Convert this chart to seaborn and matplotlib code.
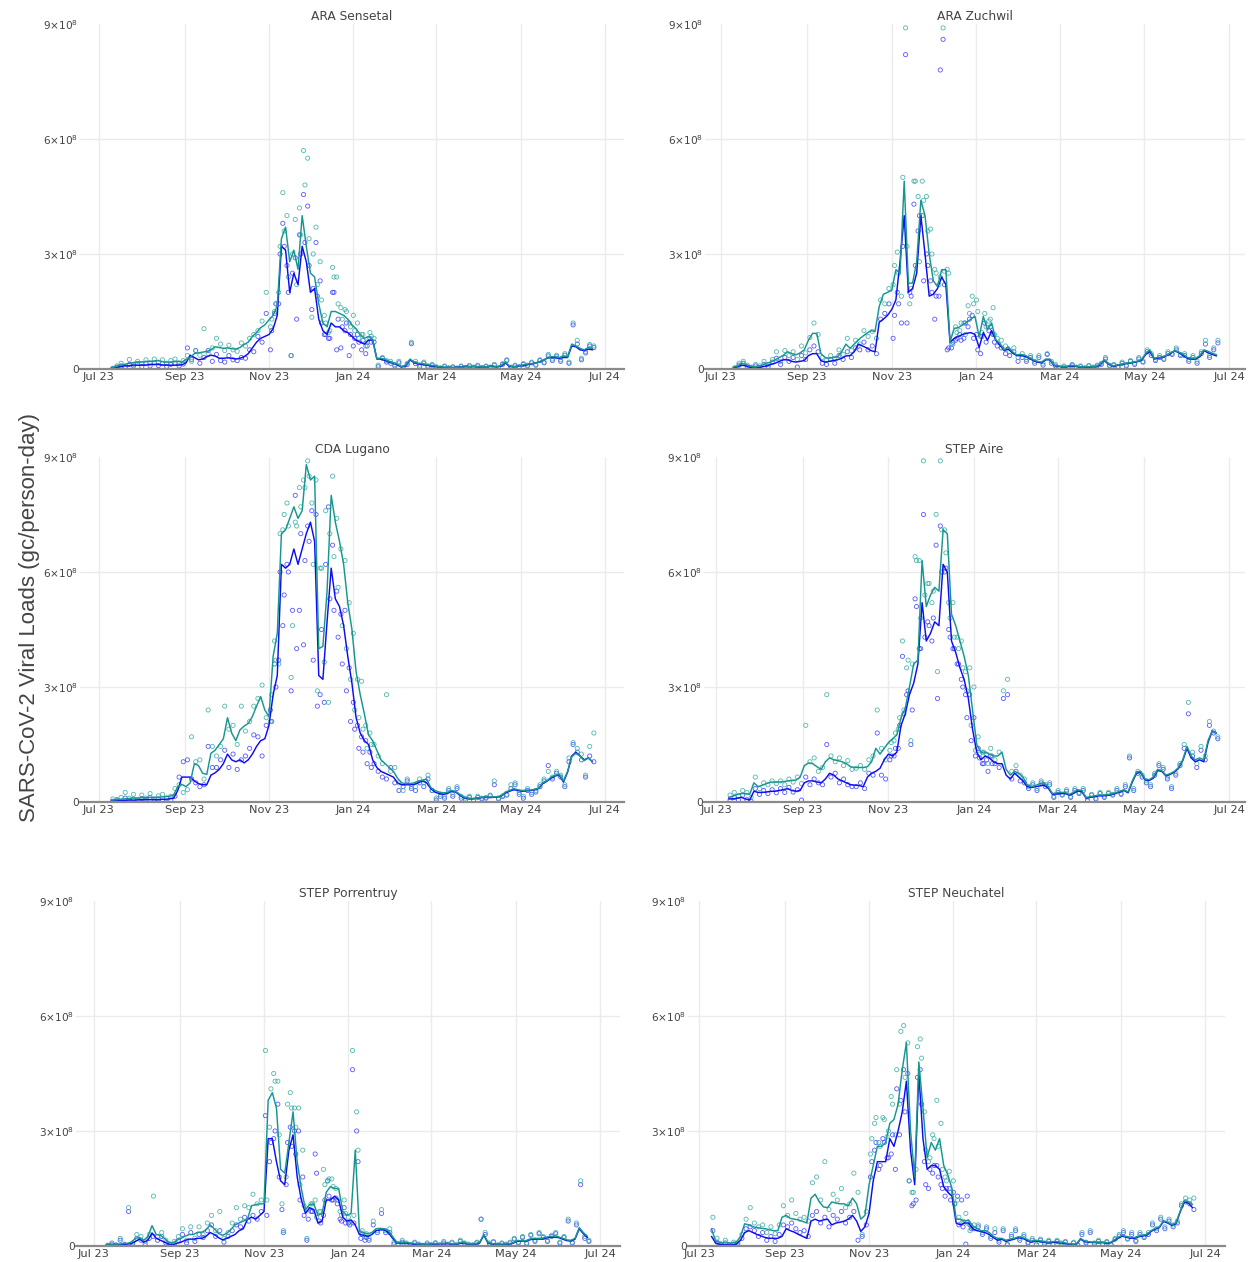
import numpy as np
import pandas as pd
import matplotlib
matplotlib.use("Agg")
import matplotlib.pyplot as plt
import matplotlib.dates as mdates
import seaborn as sns

sns.set_theme(style="white")
plt.rcParams["font.family"] = ["DejaVu Sans"]
plt.rcParams["mathtext.fontset"] = "dejavusans"

UNIT = 1e7  # all loads below are in units of 10^7 gc/person-day

# smoothed curves every 3 days, raw samples offset by one day,
# plus extra raw samples in the winter peak window
line_dates = pd.date_range("2023-07-10", periods=117, freq="3D")
sample_dates = pd.date_range("2023-07-11", periods=117, freq="3D")
peak_dates = pd.date_range("2023-07-12", periods=117, freq="3D")[38:63]

sites = ["ARA Sensetal", "ARA Zuchwil", "CDA Lugano", "STEP Aire",
         "STEP Porrentruy", "STEP Neuchatel"]

# ---------------- ARA Sensetal ----------------
sens_n1_line = [0.2,0.4,0.6,0.8,0.8,1.0,1.0,1.0,1.0,1.1,
    1.2,1.2,1.1,1.0,1.0,1.0,1.0,1.1,
    1.6,3.6,3.0,2.4,2.6,3.2,3.6,3.4,2.8,2.8,2.9,2.8,
    2.6,2.8,3.2,4.0,5.5,7.0,8.0,8.5,9.0,10.5,14.0,
    32,31,20,25,22,32,28,20,21,13,10,9,12,11,11,10,9.5,8.5,7.5,7.0,6.5,7.5,7.6,
    2.6,2.6,2.2,1.8,1.5,1.0,0.5,0.8,2.4,1.6,1.3,1.2,1.0,0.8,0.6,0.5,0.4,
    0.4,0.4,0.4,0.5,0.6,0.7,0.6,0.6,0.5,
    0.5,0.6,0.7,0.5,0.8,1.6,0.6,0.6,0.7,0.9,1.0,1.3,1.5,1.8,2.2,2.8,3.0,3.0,2.8,3.0,3.0,6.0,5.8,5.0,4.8,5.2,5.0]
sens_n1_pts = [0.1,0.5,0.8,0.4,1.2,0.8,1.4,0.6,1.5,0.8,
    1.6,0.9,1.4,0.7,1.2,1.5,0.8,1.3,
    5.5,2.5,4.8,1.5,3.0,4.8,2.0,3.8,2.2,1.8,3.5,2.4,
    2.2,3.0,2.8,5.0,4.5,8.5,7.0,14.5,5.0,14.5,17.0,
    38,27,3.5,29,35,45.5,42.5,15.5,33,23,9,8,20,5,5.5,10,3.5,6,9,5,4,8,7,
    0.6,2.8,1.8,1.5,0.8,1.6,0.2,1.2,6.6,1.4,0.6,1.5,0.5,1.0,0.4,0.2,0.6,
    0.2,0.5,0.2,0.6,0.3,0.8,0.4,0.8,0.3,
    0.6,0.4,1.0,0.2,1.2,2.2,0.4,0.8,0.5,1.2,0.8,1.6,1.0,2.2,1.6,3.4,2.2,3.2,2.0,3.6,1.5,11.5,6.5,2.4,4.2,6.0,5.6]
sens_n1_peak = [10,17,30,32,20,25,13,30,33,27,21,19,12,9,8,20,13,11,12,9,8,7,7.5,6,7]
sens_n2_line = [0.3,0.6,1.0,1.2,1.4,1.6,1.8,1.8,1.9,2.0,
    2.0,2.2,2.0,1.8,1.8,1.9,2.0,1.8,
    2.5,3.0,4.0,4.2,4.4,4.6,5.0,5.8,5.6,5.4,5.5,5.3,
    5.2,5.6,6.4,7.0,8.5,9.5,10.8,11.5,12.8,14.0,16.5,
    34,37,28,31,26,40,32,25,24,17,12,11,15,15,14.5,14,13,11.5,10.5,9,8,8.5,7.6,
    2.8,2.8,2.5,2.0,1.6,1.2,0.6,1.0,2.6,1.8,1.5,1.4,1.2,1.0,0.8,0.6,0.5,
    0.5,0.4,0.4,0.5,0.5,0.6,0.6,0.7,0.6,
    0.5,0.7,0.8,0.5,1.0,1.8,0.8,0.6,0.8,1.0,1.2,1.4,1.5,1.8,2.2,2.8,3.2,3.2,3.0,3.4,3.2,6.5,6.0,5.4,5.0,5.6,5.4]
sens_n2_pts = [0.2,0.8,1.5,0.6,2.5,1.2,2.0,1.4,2.4,1.6,
    2.6,1.8,2.4,1.5,2.2,2.6,1.6,2.2,
    3.5,2.0,4.8,3.6,10.5,4.0,5.5,8.0,6.5,4.8,6.2,5.0,
    4.6,6.8,6.0,8.0,9.0,10.0,12.5,20.0,11.0,15.0,20.0,
    46,40,3.5,39,42,57,55,13.5,37,28,14,9.5,26.5,24,16,15.5,12,14,12,9,6,9.5,8,
    1.0,3.0,2.2,2.0,1.2,2.0,0.4,1.5,7.0,2.0,1.0,1.8,0.8,1.2,0.6,0.3,0.8,
    0.3,0.6,0.2,0.8,0.4,0.9,0.5,1.0,0.4,
    0.8,0.5,1.2,0.3,1.4,2.4,0.5,1.0,0.6,1.4,1.0,1.8,1.2,2.4,1.8,3.8,2.6,3.6,2.4,4.0,1.8,12.0,7.5,2.8,4.6,6.4,6.0]
sens_n2_peak = [13,17,32,36,24,30,22,35,48,34,30,22,18,12,10,24,17,13,15,11,10,8,9,7,8.5]

# ---------------- ARA Zuchwil ----------------
zuch_n1_line = [0.3,0.6,1.0,0.8,0.4,0.2,0.3,0.6,0.8,1.2,
    1.5,2.0,2.4,2.4,2.0,1.8,2.0,2.2,
    3.5,4.0,4.0,2.2,1.8,2.0,2.2,2.4,2.8,3.4,3.5,4.5,
    6.5,6.0,5.5,4.8,4.5,12.2,13.0,14.0,15.5,18,28,
    40,20,21,25,40,30,19,19.5,21,24,22,7.0,8.0,8.5,9.0,9.3,9.5,9.0,5.6,9.5,7.5,10,7.5,
    6.2,4.8,5.2,4.2,3.5,3.5,3.3,2.8,2.2,1.8,1.6,2.4,2.4,0.9,0.7,0.5,0.5,
    0.8,0.7,0.5,0.4,0.5,0.5,0.6,1.0,2.2,
    1.3,0.7,0.9,1.1,1.4,1.5,1.7,1.9,2.3,3.8,4.6,2.6,2.8,3.0,3.5,4.0,4.8,4.2,3.5,2.8,2.6,2.6,3.2,4.8,4.2,3.8,3.4]
zuch_n1_pts = [0.2,1.0,1.5,0.5,0.2,0.8,0.2,1.2,0.6,1.8,
    2.8,1.2,3.0,2.0,3.0,0.5,3.5,2.5,
    5.0,6.0,4.5,1.5,1.2,2.5,1.5,3.5,2.5,4.5,3.0,5.5,
    5.0,7.0,5.0,6.0,4.0,13.0,14.5,17,8,20,12,
    82,20,43,36,40,30,23,13,19,86,5.0,5.5,7.5,9.0,8.0,11,14,9.0,4.0,12,10,9.0,6.0,
    5.5,4.0,3.5,4.5,2.0,3.0,2.0,3.0,1.5,3.0,1.0,3.8,1.5,0.8,0.2,0.5,0.3,
    1.0,0.4,0.6,0.2,0.8,0.3,0.8,1.2,2.6,
    0.8,1.0,0.5,1.5,0.8,2.0,1.2,2.6,1.8,4.5,3.5,2.2,3.0,2.5,4.0,3.8,5.0,3.5,3.5,2.0,3.0,1.5,4.0,6.5,3.0,5.0,6.8]
zuch_n1_peak = [14,17,32,12,19,27,40,23,27,20,19,78,22,5.5,7.0,8.0,7.5,12,13,8.0,5.0,8.5,7.0,11,7]
zuch_n2_line = [0.5,0.8,1.5,1.2,0.8,0.6,0.8,1.0,1.5,1.8,
    2.4,3.0,3.6,4.5,4.0,3.7,4.2,5.0,
    7.5,9.3,9.3,4.0,3.0,2.8,3.0,3.2,4.5,6.5,5.4,6.5,
    7.6,8.5,9.3,10.0,9.8,16.3,19.5,20.0,20.5,25.9,25,
    49,22.4,22.4,28,44,40,30,23,21.5,25.9,25.9,7.1,10.6,10.8,11.5,12.2,13,13.7,8.4,13.7,10.2,12.0,7.6,
    6.7,5.0,5.8,4.5,3.7,3.8,3.6,3.0,2.4,2.0,1.8,2.6,2.6,1.0,0.8,0.6,0.6,
    1.0,0.8,0.6,0.5,0.6,0.6,0.7,1.2,2.4,
    1.5,0.8,1.0,1.2,1.5,1.6,1.8,2.0,2.5,4.1,5.0,2.8,3.0,3.2,3.6,4.2,4.8,4.4,3.8,3.0,2.8,2.8,3.5,5.0,4.6,4.1,3.7]
zuch_n2_pts = [0.3,1.5,2.0,1.0,0.5,1.2,0.8,2.0,1.2,2.5,
    4.5,2.0,4.8,3.5,4.5,2.5,6.0,4.2,
    8.2,12.0,9.0,3.0,2.2,3.5,2.8,5.0,3.8,8.0,4.8,7.5,
    6.5,10.0,8.5,9.8,8.0,18,17,21,22,30.5,19,
    89,17,49,45,49,45,36.5,26,22,89,26,6.5,11,10,12,16.5,19,18,8.5,14.5,12.5,16,8,
    7.5,6.0,4.5,5.5,3.0,4.0,2.5,3.5,2.0,3.5,1.5,4.0,2.0,1.2,0.3,0.8,0.4,
    1.2,0.5,0.8,0.3,0.9,0.5,1.0,1.5,3.0,
    1.0,1.2,0.6,1.8,1.0,2.2,1.5,3.0,2.0,5.0,4.0,2.5,3.5,2.8,4.5,4.0,5.5,3.8,4.0,2.5,3.5,2.0,4.5,7.5,3.5,5.5,7.5]
zuch_n2_peak = [27,25,50,32,21,49,28,44,36,30,25,24,25.5,25,6.5,9.5,12,9.0,14.5,17,15,9.5,11,13,9]

# ---------------- CDA Lugano ----------------
luga_n1_line = [0.3,0.3,0.4,0.4,0.5,0.5,0.5,0.6,0.6,0.6,
    0.6,0.6,0.7,0.7,0.8,1.0,3.0,6.5,
    6.5,6.5,5.5,4.8,4.5,4.5,7.0,7.6,8.5,10,12.5,11,
    10.5,11,10.2,11,12.5,14.5,16,16.5,20,28,33,
    62,61,62,66,62,66,70,73,68,33,32,47,61,53,51,46,38,31,22,18,16,15,11,
    9,8,7.5,7,6.5,5,4.5,4.5,4.5,4.6,5.0,5.5,5.0,3.5,2.6,2.2,2.0,
    2.2,2.8,2.6,1.8,1.1,0.9,0.8,1.0,1.1,
    1.2,1.2,1.2,1.3,1.5,2.4,2.8,3.2,3.0,2.8,2.9,3.0,3.2,3.5,4.8,5.4,6.2,6.8,7.0,5.2,7.8,12,13,12,11,11.5,10.5]
luga_n1_pts = [0.2,0.6,0.1,1.0,0.3,0.8,0.2,0.9,0.4,1.2,
    0.3,0.8,0.2,1.0,0.5,1.5,6.5,10.5,
    11,6,5,4,4.5,14.5,9,9,11,13.5,9,12.5,
    8.5,11,12,14,17.5,17,12,20,24,36,37,
    46,62,29,80,50,41,72,76,75,28,26,77,67,55,49,50,35,26,20,17,16,13,10,
    8,6.5,6,9,5,3,4,5.5,3.5,3,5,4,6,3,0.5,1.5,1,
    3,1.5,3.5,1,0.5,1.2,0.3,1.2,0.8,
    1.0,1.6,4.5,0.8,1.4,1.8,3.5,4.5,2.0,1.0,3.0,2.0,2.6,4.0,5.5,9.5,6.0,7.5,6.5,4.0,10.5,15,13,11,6.5,12,10.5]
luga_n1_peak = [21,30,60,54,60,50,40,70,63,68,37,25,45,62,53,50,43,36,29,21,19,14,13,10,9]
luga_n2_line = [0.5,0.6,0.7,0.8,0.9,1.0,1.0,1.1,1.1,1.2,
    1.2,1.2,1.3,1.4,1.5,1.8,4.0,4.6,
    4.0,5.0,10.0,9.5,7.5,7.2,12.7,13.5,15.0,16.5,22,18,
    16,18.8,19.8,20.5,22.3,25,27.5,24,22.3,38,44,
    70,71,74,77,74,76,88,84,85,40,40.6,55,80,73,68,62,52,45,34,28,23,17.5,16,
    13.5,11,10,9,8,6.2,5.0,4.8,4.8,5.0,5.5,5.7,6.0,3.8,3.0,2.6,2.4,
    2.5,3.0,2.8,2.0,1.3,1.0,0.9,1.0,1.2,
    1.3,1.3,1.3,1.4,1.6,2.6,3.0,3.5,3.2,3.0,3.1,3.1,3.3,3.6,5.0,5.5,6.5,7.0,7.2,5.5,8.0,11.8,12.7,12.0,10.8,11.5,10.5]
luga_n2_pts = [0.8,0.4,1.2,2.5,1.0,2.0,0.6,1.8,1.0,2.2,
    0.8,1.6,2.0,1.0,1.5,3.5,4.5,2.5,
    3.2,17,10.5,11,6.0,24,14.5,12,14.5,25,19,20,
    15,25,18.5,21,25,27,30.5,22,21,42,36,
    71,78,32.5,73,82,84,89,78,84,61,36.5,26,85,74,66,63,52,44,32,31.5,20,18,15,
    12,10,28,8,9,5,3,6,4,4,6,5,7,3,1,2,1.5,
    3.5,2,4,1.5,1,1.5,0.5,1.5,1.0,
    1.2,1.8,5.5,1.0,1.6,2.0,4.5,5.0,2.5,1.5,3.5,2.5,3.0,4.5,6.0,8.0,6.5,8.0,7.0,4.5,11.5,15.5,14,12.5,7,14.5,18]
luga_n2_peak = [28,37,70,75,72,46,72,77,82,85,62,29,61,76,70,64,56,46,40,32,24,22,19,14,15]

# ---------------- STEP Aire ----------------
aire_n1_line = [0.8,0.8,1.0,1.2,0.8,0.5,2.8,2.5,2.5,2.6,
    2.8,2.8,3.0,3.2,3.5,3.0,2.8,3.0,
    5.0,5.5,5.5,5.2,5.0,6.0,7.5,7.0,6.0,5.5,5.0,4.5,
    4.4,4.3,4.0,6.5,7.5,8.0,8.8,11,12.5,12,13,
    20,23,28,31,36,52,42,44,47,46,62,60,42,39,35,32,27,19,13,11,12,11.5,10.5,
    10,10,7,6,7.5,6.5,5.5,4.0,3.8,4.0,4.2,4.4,3.6,2.0,2.1,2.2,2.2,
    1.8,2.2,2.9,2.7,1.0,1.2,1.4,1.6,1.6,
    1.7,1.9,2.2,2.6,3.0,2.4,5.2,7.5,7.8,5.8,5.6,6.2,8.2,8.0,6.8,7.2,7.8,8.8,10.8,14,11.5,10.5,11,10.5,15.5,18.5,18]
aire_n1_pts = [0.5,1.2,0.5,1.8,0.6,0.2,3.5,2.0,3.0,2.2,
    3.2,2.4,3.5,2.5,3.8,2.6,3.2,0.5,
    6.5,4.5,6.0,5.0,4.5,15,6.5,7.5,5.0,6.0,4.5,4.0,
    4.0,5.0,3.5,7.5,7.0,18,7,6,11,12,14,
    38,28,15,53,40,75,47,42,67,72,60,45,40,36,32,28,28,22,14,10,11,12,10,
    9,27,28,6,8,5.5,5,3.5,4.5,3,5,4,4.5,1.2,2.5,1.8,2.8,
    1.2,3.0,2.2,3.0,0.3,1.8,0.8,2.2,1.2,
    2.2,1.8,3.0,2.0,4.0,11.5,3.0,7.5,6.5,5.0,4.0,7.0,9.5,8.5,6.0,3.5,7.0,9.5,14,23,12,9,13.5,11,20,18,16.5]
aire_n1_peak = [12,14,20,23,29,24,51,40,43,46,48,27,60,61,43,40,36,30,22,16,12,11.5,10,8,10]
aire_n2_line = [1.2,1.5,2.0,2.2,2.2,2.0,5.0,4.0,4.4,4.8,
    5.2,5.2,5.2,5.3,5.5,5.6,5.7,6.5,
    9.5,10.2,10.0,9.2,8.5,10.5,11.5,11.0,10.8,10.5,10.0,9.2,
    9.0,9.0,9.0,9.2,10.5,14.0,12.5,14,15.5,16.5,17.5,
    22,24.5,30,36,37,63,51,54,56,55,71,70,49,46,42,38,33,24,15,13,13,12.5,12,
    12,13,8.5,7,8.0,7.5,6.5,4.5,4.0,4.3,4.8,5.0,4.0,2.2,2.4,2.5,2.5,
    2.0,2.5,3.2,3.0,1.2,1.4,1.6,1.8,1.8,
    1.9,2.1,2.4,2.8,3.2,2.6,5.5,7.8,8.0,6.0,5.8,6.5,8.5,8.2,7.0,7.4,8.0,9.0,11,14.5,12,11,11.5,11,16,18.5,18]
aire_n2_pts = [1.8,2.5,1.5,3.0,2.5,1.2,6.5,3.5,5.0,4.5,
    5.5,4.8,5.5,4.5,6.0,5.2,6.5,4.8,
    20,10.5,11.5,8.0,9.0,28,12,10.5,11.5,9.5,10.8,8.5,
    8.8,9.5,8.5,11,12,24,14,11,13.5,16,19,
    42,35,16,64,63,89,57,52,75,89,71,52,52,43,42,34,35,30,17,13,12.5,14,11,
    13,29,32,8,9.5,7,6,4,5,3.5,5.5,4.5,5,1.5,3,2,3.2,
    1.5,3.5,2.5,3.5,0.5,2.0,1.0,2.5,1.5,
    2.5,2.0,3.5,2.2,4.5,12,3.5,8.0,7.0,5.5,4.5,7.5,10,9,6.5,4,7.5,10,15,26,13,10,14.5,12,21,18.5,17]
aire_n2_peak = [15.5,18,22,24,37,36,63,48,54,57,55,34,71,65,48,43,40,35,29,20,13.5,12.5,13,10,12]

# ---------------- STEP Porrentruy ----------------
porr_n1_line = [0.3,0.3,0.3,0.3,0.4,0.5,0.6,1.2,1.8,1.0,
    1.5,3.4,2.0,1.5,1.0,0.5,0.3,0.7,
    1.0,1.5,1.8,1.8,2.0,2.0,2.5,3.5,3.0,2.2,1.6,2.0,
    2.5,3.0,4.0,4.5,7.0,7.5,7.0,8.0,9.0,28,28,
    22,17,16,25,29,18,12,8.5,10,9.5,6.0,6.5,12,12,13,12,7.5,6.5,6.8,5.5,3.0,2.8,2.5,
    3.0,4.0,4.2,4.2,3.5,2.0,0.8,0.8,0.8,0.6,0.5,0.5,0.4,0.4,0.4,0.5,0.5,
    0.6,0.6,0.5,0.4,0.6,0.8,0.5,0.4,0.5,
    0.8,2.8,0.8,0.5,0.4,0.4,0.4,0.5,0.7,1.2,1.3,1.2,1.6,1.8,1.8,1.8,2.1,2.3,2.3,2.2,1.8,1.4,1.3,1.8,4.5,3.2,2.2]
porr_n1_pts = [0.1,0.5,0.2,1.5,0.3,9,0.5,2.0,1.5,0.6,
    2.0,2.5,1.5,2.5,0.8,0.3,0.5,1.5,
    3.0,0.8,3.5,1.2,3.0,2.2,4.0,5.5,2.5,4.0,1.0,2.5,
    4.0,5.5,5.0,7.5,6.5,8.0,7.0,9.0,34,22,28,
    37,9.5,16,31,30,30,18,1.5,9.0,24,6.5,8,17,12,12.5,7.0,10,6.0,46,30,2.0,1.5,1.5,
    5.5,3.5,8.5,3.5,3.5,0.5,0.3,1.0,0.5,0.2,0.8,0.3,0.1,0.5,0.2,0.6,0.2,
    0.8,0.3,0.8,0.2,1.2,0.6,0.3,0.2,0.8,
    7,3.0,0.5,1.0,0.2,0.6,0.3,0.8,1.8,0.8,2.2,0.6,2.8,1.2,3.2,2.2,1.2,2.5,3.2,0.8,2.2,6.5,0.8,5.5,16,2.0,1.2]
porr_n1_peak = [8,27,30,18,3.5,27,26,24,12,8,7,9,19,6,12,13,12,11,6.5,6,5.5,6,22,3.0,2.2]
porr_n2_line = [0.4,0.5,0.5,0.5,0.6,0.7,1.0,2.0,2.2,1.5,
    2.5,5.3,3.0,2.8,2.0,1.0,0.8,1.5,
    2.0,2.6,3.0,3.0,3.6,3.6,4.2,5.5,4.5,3.3,2.8,3.3,
    4.3,5.5,6.0,6.5,7.0,10.5,10.8,11,11,38,40,
    36,20,19,27,35,22,15,9.5,10.8,11,8,8.5,14,15.5,15,15,9,8,8.5,25,3.8,3.5,3.2,
    3.5,4.5,4.6,4.5,4.0,2.5,1.0,1.0,1.0,0.8,0.7,0.6,0.5,0.5,0.5,0.6,0.6,
    0.7,0.8,0.6,0.5,0.8,1.0,0.6,0.5,0.6,
    1.0,3.0,1.0,0.6,0.5,0.5,0.5,0.6,0.8,1.4,1.4,1.3,1.8,2.0,2.0,2.0,2.3,2.5,2.5,2.4,2.0,1.6,1.5,2.0,4.8,3.5,2.5]
porr_n2_pts = [0.2,0.8,0.3,2.0,0.5,10,0.8,3.0,2.5,1.2,
    3.0,13,2.5,3.5,1.5,0.5,1.2,2.5,
    4.5,1.5,5.0,2.0,5.0,3.0,6.0,8.0,4.0,9.0,2.0,3.5,
    6.0,10,7.0,10.5,10,13.5,11,12,51,31,45,
    43,11,18,40,36,36,25,2,11,12,9,20,17,17.5,15,9.0,12,7.5,51,35,3.5,2.5,2.0,
    6.5,4.0,9.5,4.0,4.5,1.0,0.5,1.5,0.8,0.3,1.0,0.5,0.2,0.8,0.4,0.9,0.3,
    1.2,0.5,1.0,0.3,1.5,0.8,0.5,0.3,1.0,
    7,3.5,0.8,1.2,0.3,0.8,0.5,1.0,2.0,1.0,2.5,0.8,3.0,1.5,3.5,2.5,1.5,2.8,3.5,1.0,2.5,7,1.0,6,17,2.5,1.5]
porr_n2_peak = [12,41,43,29,4,37,36,31,16,10.5,9.5,11,7.5,9,16,17.5,15.5,12,8,8.5,6.0,8,25,4.0,3.2]

# ---------------- STEP Neuchatel ----------------
neuc_n1_line = [2.5,0.8,0.4,0.3,0.3,0.3,0.5,1.5,3.5,4.0,
    3.5,3.0,2.6,2.2,2.0,2.0,2.0,2.5,
    4.5,4.0,3.6,3.0,2.5,2.0,6.5,7.0,6.5,6.8,7.0,5.5,
    6.0,6.2,6.5,7.0,8.0,6.5,3.8,5.0,8.5,17,22,
    22,22,28,26,30,35,43,25,16,45,28,20,21,21,20,15.5,14,13,6,5.5,6,6,4.5,
    4.0,3.8,3.5,3.0,2.2,1.5,1.8,1.2,1.5,1.8,2.2,2.0,1.5,1.0,1.3,1.2,1.0,
    0.8,0.9,1.0,0.8,0.7,0.5,0.4,0.4,1.8,
    1.1,1.0,0.9,0.9,0.9,0.8,0.7,1.3,2.0,2.6,2.3,2.0,2.0,2.4,2.6,2.8,3.8,4.4,4.8,6.4,6.0,5.4,5.8,8.8,11.5,11.2,10.0]
neuc_n1_pts = [4.0,1.0,0.2,0.8,0.1,0.5,0.3,2.0,4.5,5.0,
    4.0,2.5,3.5,1.5,2.5,1.2,3.0,5.5,
    5.0,6.0,4.5,3.5,4.0,2.5,8.0,9.0,6.0,7.5,5.0,8.0,
    7.0,9.0,6.0,7.5,9.0,1.5,2.5,5.5,18,25,20,
    28,23,24,20,29,46,45,10.5,12,46,22,15,19,21,16,13,15,14,13,12,0.5,5.5,4.5,
    5.0,3.0,4.5,2.0,3.5,1.0,4.0,0.3,2.5,4.0,1.5,2.5,0.8,1.5,0.3,1.5,0.5,
    1.2,0.4,1.2,0.5,1.0,0.1,0.8,0.2,3.0,
    0.8,3.5,0.6,1.2,0.4,1.0,0.3,1.8,2.6,3.5,1.8,3.0,1.2,3.0,2.2,3.0,5.5,4.0,7.0,4.5,6.5,5.0,6.0,10.5,11.5,11,9.5]
neuc_n1_peak = [22,27,21,27,23,29,41,38,35,17,11,44,37,16,20,21,18,15,15,12,11,5.5,5,13,4.5]
neuc_n2_line = [4.5,1.2,1.0,0.8,0.8,0.8,1.0,2.5,5.8,5.5,
    5.0,4.8,4.6,4.5,4.2,4.0,4.0,7.5,
    8.0,7.2,7.0,6.8,6.4,6.0,12.5,13.5,11.5,10.2,10,11.5,
    11.2,11,11,10.5,12.5,11,7.0,8.0,16,21,26,
    26,27,32,33,37,46,53,30,18,48,36,23,27,25,28,21,18.5,15,7,7,6.5,6.8,5.2,
    4.6,4.0,4.0,3.5,2.5,2.0,2.0,1.5,1.8,2.0,2.4,2.2,1.8,1.2,1.5,1.4,1.2,
    1.0,1.1,1.2,1.0,0.9,0.6,0.5,0.5,2.0,
    1.3,1.1,1.0,1.0,1.0,0.9,0.8,1.5,2.2,2.8,2.5,2.2,2.2,2.6,2.8,3.0,4.0,4.6,5.0,6.6,6.2,5.6,6.0,9.0,11.8,11.5,10.8]
neuc_n2_pts = [7.5,2.0,0.5,1.5,0.3,1.0,0.8,3.0,7.0,10,
    6.0,5.0,5.5,3.5,5.0,3.2,5.5,10.5,
    8.0,12,8.5,7.0,7.5,6.5,16.5,18,12,22,9.5,13.5,
    12,15,10,11,19,14,3.0,9.0,24,32,27,
    33.5,28.5,39,29,37,57.5,53,14,20,54,35,22,29,38,32,18,19.5,17,12,6,8.5,4,5.5,
    5.5,3.5,5,2.5,4.5,1.5,4.5,0.5,3.0,4.5,2.0,3.0,1.0,2.0,0.5,1.8,0.8,
    1.5,0.6,1.5,0.8,1.2,0.2,1.0,0.3,3.5,
    1.0,4.0,0.8,1.5,0.6,1.2,0.4,2.0,3.0,4.0,2.0,3.5,1.5,3.5,2.5,3.5,6.0,4.5,7.5,5.0,7.0,5.5,6.5,11,12.5,12,12.5]
neuc_n2_peak = [28,33.5,26,33,30,37,46,56,44,17,14,52,49,25,23,28,26,20,17,14,11,7.5,6.5,6,5]

site_data = {
    "ARA Sensetal": (sens_n1_line, sens_n1_pts, sens_n1_peak, sens_n2_line, sens_n2_pts, sens_n2_peak),
    "ARA Zuchwil": (zuch_n1_line, zuch_n1_pts, zuch_n1_peak, zuch_n2_line, zuch_n2_pts, zuch_n2_peak),
    "CDA Lugano": (luga_n1_line, luga_n1_pts, luga_n1_peak, luga_n2_line, luga_n2_pts, luga_n2_peak),
    "STEP Aire": (aire_n1_line, aire_n1_pts, aire_n1_peak, aire_n2_line, aire_n2_pts, aire_n2_peak),
    "STEP Porrentruy": (porr_n1_line, porr_n1_pts, porr_n1_peak, porr_n2_line, porr_n2_pts, porr_n2_peak),
    "STEP Neuchatel": (neuc_n1_line, neuc_n1_pts, neuc_n1_peak, neuc_n2_line, neuc_n2_pts, neuc_n2_peak),
}

y_ticks = [0, 3e8, 6e8, 9e8]
y_tick_labels = ["0", r"$3{\times}10^{8}$", r"$6{\times}10^{8}$", r"$9{\times}10^{8}$"]

# ---------------- layout (pixels) ----------------
W, H = 1254, 1262
# left, right, top, bottom of each plotting area, and x padding (days) around Jul 23 .. Jul 24
boxes = {
    "ARA Sensetal": (80, 624, 24, 369, 13.7, 13.8),
    "ARA Zuchwil": (705, 1245, 24, 369, 11.5, 11.5),
    "CDA Lugano": (80, 624, 457, 802, 13.7, 13.8),
    "STEP Aire": (704, 1245, 457, 802, 8.6, 11.4),
    "STEP Porrentruy": (76, 620, 901, 1246, 13.0, 14.5),
    "STEP Neuchatel": (688, 1225, 901, 1246, 8.0, 14.5),
}

BLUE_LINE = "#0d0df2"
TEAL_LINE = "#15978f"
BLUE_PT = "#3b3bff"
TEAL_PT = "#33aca2"
TEXT = "#444444"

fig = plt.figure(figsize=(W / 100, H / 100), dpi=100)

for site in sites:
    n1_line, n1_pts, n1_peak, n2_line, n2_pts, n2_peak = site_data[site]
    L, R, T, B, pad_l, pad_r = boxes[site]
    ax = fig.add_axes([L / W, 1 - B / H, (R - L) / W, (B - T) / H])

    samples = pd.concat([
        pd.DataFrame({"date": sample_dates, "load": np.asarray(n1_pts) * UNIT, "gene": "N1"}),
        pd.DataFrame({"date": peak_dates, "load": np.asarray(n1_peak) * UNIT, "gene": "N1"}),
        pd.DataFrame({"date": sample_dates, "load": np.asarray(n2_pts) * UNIT, "gene": "N2"}),
        pd.DataFrame({"date": peak_dates, "load": np.asarray(n2_peak) * UNIT, "gene": "N2"}),
    ], ignore_index=True)
    curves = pd.concat([
        pd.DataFrame({"date": line_dates, "load": np.asarray(n1_line) * UNIT, "gene": "N1"}),
        pd.DataFrame({"date": line_dates, "load": np.asarray(n2_line) * UNIT, "gene": "N2"}),
    ], ignore_index=True)

    for gene, col in (("N1", BLUE_PT), ("N2", TEAL_PT)):
        sub = samples[samples["gene"] == gene]
        sns.scatterplot(data=sub, x="date", y="load", ax=ax, s=9,
                        facecolor="none", edgecolor=col, linewidth=0.6,
                        alpha=0.85, legend=False, zorder=2)

    sns.lineplot(data=curves, x="date", y="load", hue="gene",
                 hue_order=["N1", "N2"],
                 palette={"N1": BLUE_LINE, "N2": TEAL_LINE},
                 estimator=None, linewidth=1.05, legend=False, ax=ax, zorder=3)

    ax.set_xlim(pd.Timestamp("2023-07-01") - pd.Timedelta(days=pad_l),
                pd.Timestamp("2024-07-01") + pd.Timedelta(days=pad_r))
    ax.set_ylim(0, 9e8)
    ax.xaxis.set_major_locator(mdates.MonthLocator(bymonth=[1, 3, 5, 7, 9, 11]))
    ax.xaxis.set_major_formatter(mdates.DateFormatter("%b %y"))
    ax.set_yticks(y_ticks)
    ax.set_yticklabels(y_tick_labels)
    ax.grid(True, color="#ebebeb", linewidth=1.0)
    ax.set_axisbelow(True)
    ax.yaxis.get_gridlines()[-1].set_visible(False)
    for side in ("left", "top", "right"):
        ax.spines[side].set_visible(False)
    ax.spines["bottom"].set_color("#8a8a8a")
    ax.spines["bottom"].set_linewidth(1.6)
    ax.spines["bottom"].set_zorder(4)
    ax.tick_params(axis="x", length=0, pad=2.5, labelsize=8.2, labelcolor=TEXT)
    ax.tick_params(axis="y", length=0, pad=1, labelsize=7.6, labelcolor=TEXT)
    ax.set_xlabel("")
    ax.set_ylabel("")
    ax.set_title(site, fontsize=8.8, color=TEXT, pad=3)

fig.text(30 / W, 1 - 617 / H, "SARS-CoV-2 Viral Loads (gc/person-day)",
         rotation=90, ha="center", va="center", fontsize=16, color=TEXT,
         family=["Liberation Sans", "DejaVu Sans"])

fig.savefig("out.png", dpi=100)
